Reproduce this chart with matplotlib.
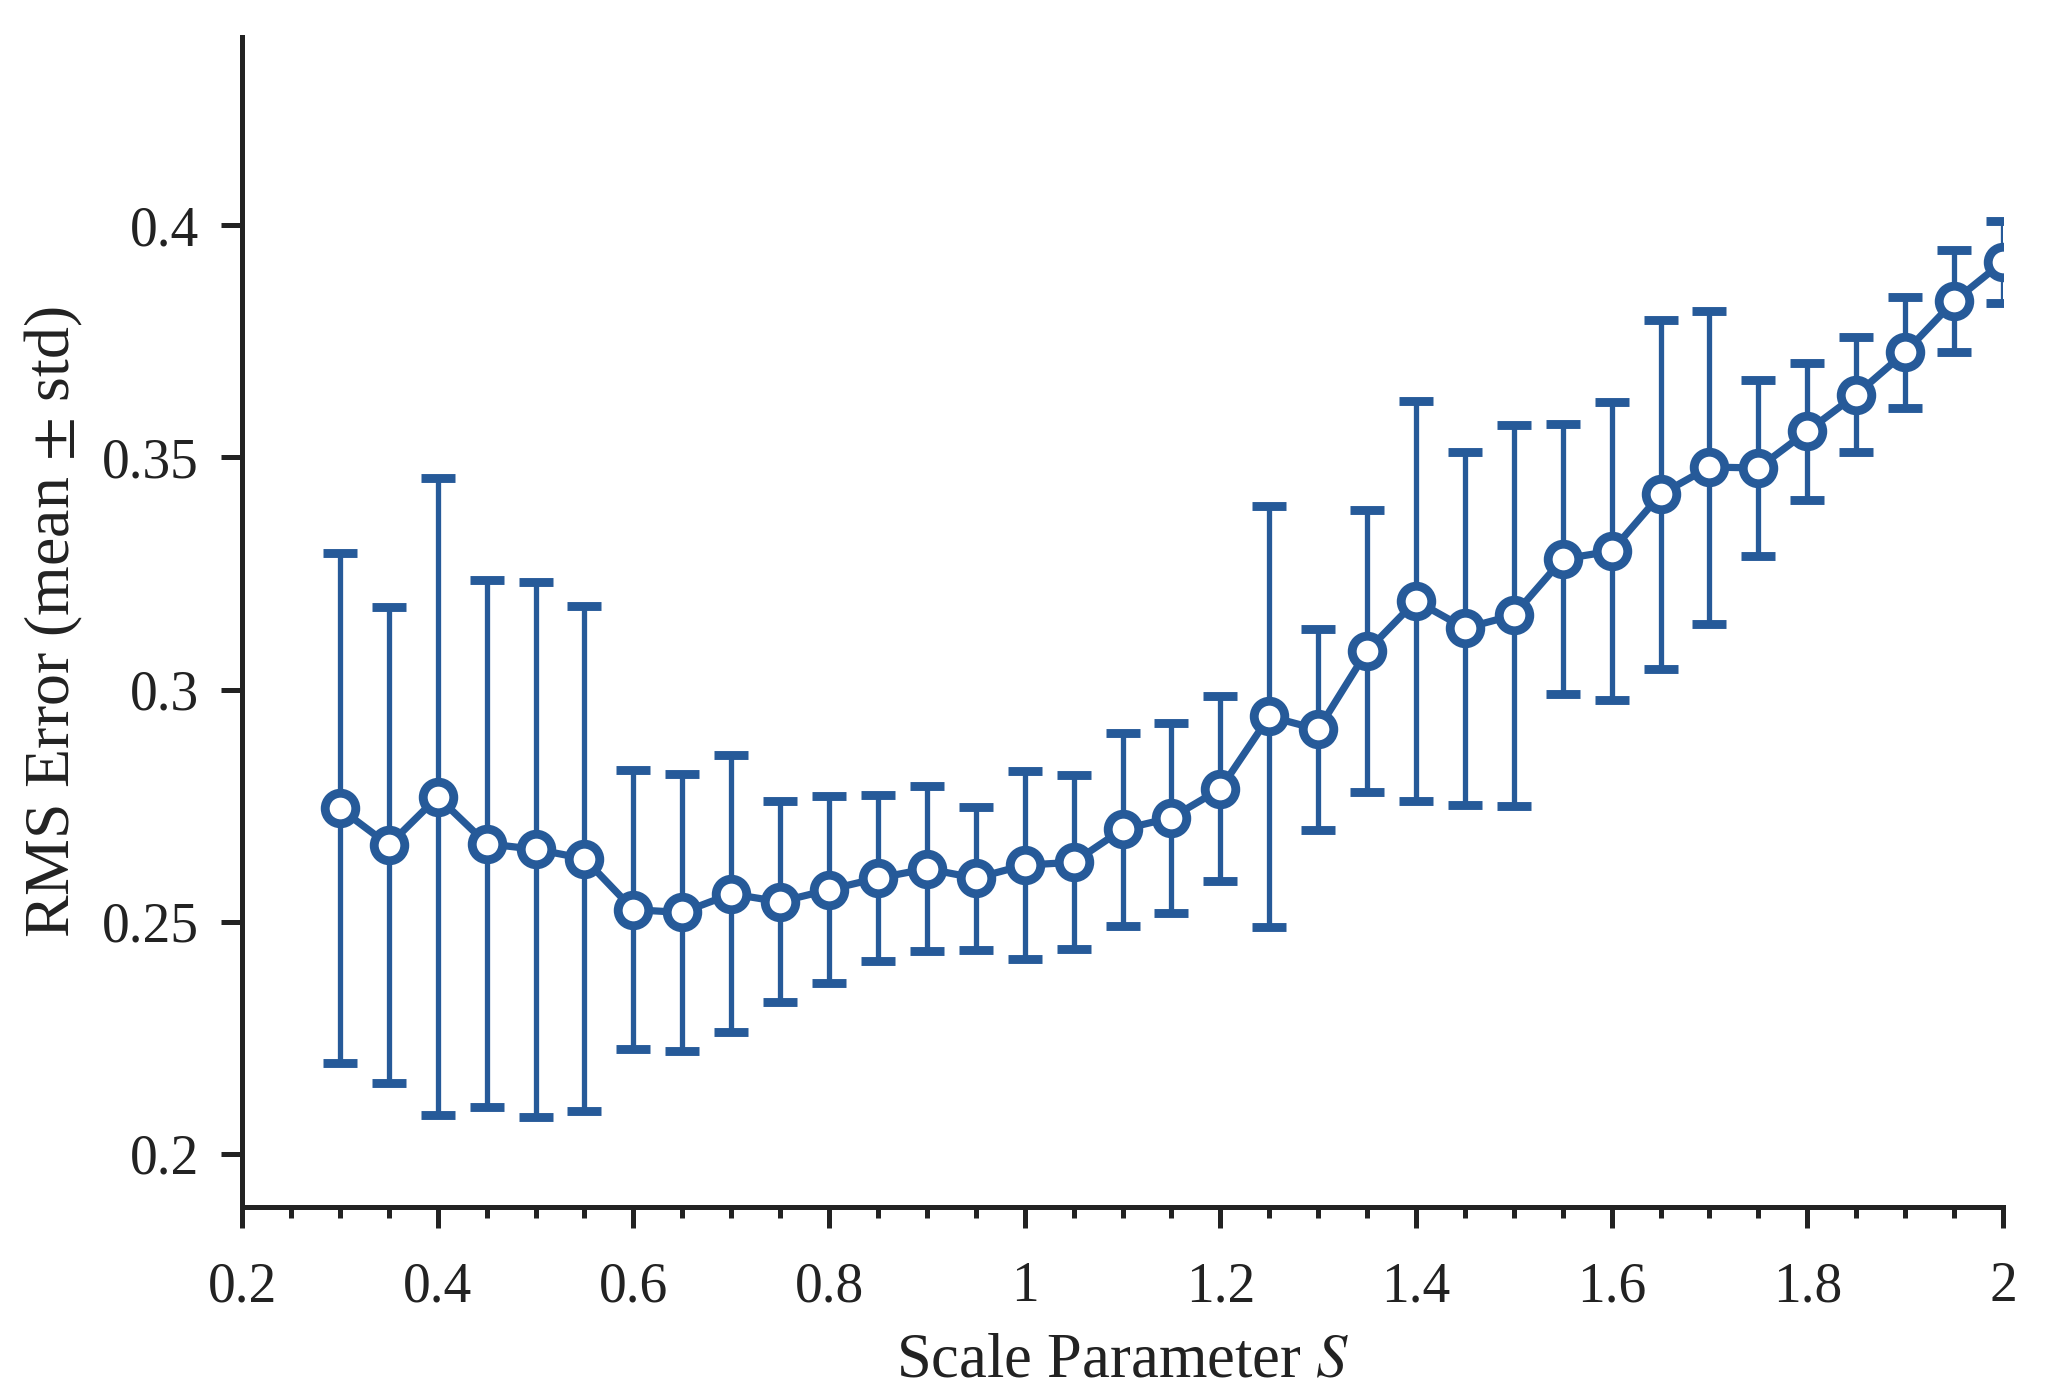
import numpy as np
import matplotlib
matplotlib.use('Agg')
import matplotlib.pyplot as plt
from matplotlib.ticker import MultipleLocator, FuncFormatter

##################
# Data
##################

scale = [0.30, 0.35, 0.40, 0.45, 0.50, 0.55, 0.60, 0.65, 0.70, 0.75,
         0.80, 0.85, 0.90, 0.95, 1.00, 1.05, 1.10, 1.15, 1.20, 1.25,
         1.30, 1.35, 1.40, 1.45, 1.50, 1.55, 1.60, 1.65, 1.70, 1.75,
         1.80, 1.85, 1.90, 1.95, 2.00]

rms_mean = [0.2744, 0.2665, 0.2769, 0.2668, 0.2656, 0.2636, 0.2526, 0.2520, 0.2560, 0.2543,
            0.2569, 0.2594, 0.2614, 0.2594, 0.2622, 0.2628, 0.2699, 0.2724, 0.2786, 0.2942,
            0.2914, 0.3083, 0.3191, 0.3132, 0.3160, 0.3281, 0.3298, 0.3420, 0.3479, 0.3477,
            0.3556, 0.3635, 0.3726, 0.3836, 0.3921]

rms_std = [0.0549, 0.0513, 0.0686, 0.0567, 0.0576, 0.0543, 0.0300, 0.0298, 0.0298, 0.0216,
           0.0201, 0.0178, 0.0178, 0.0154, 0.0202, 0.0187, 0.0208, 0.0205, 0.0199, 0.0454,
           0.0216, 0.0304, 0.0430, 0.0380, 0.0410, 0.0291, 0.0321, 0.0376, 0.0337, 0.0190,
           0.0147, 0.0123, 0.0119, 0.0110, 0.0088]

color = '#265A99'
axcolor = '#222222'

##################
# Figure
##################

plt.rcParams['font.family'] = ['Liberation Serif', 'DejaVu Serif']
plt.rcParams['mathtext.fontset'] = 'stix'
plt.rcParams['font.size'] = 20

fig = plt.figure(figsize=(10.24, 7.0), dpi=200)
ax = fig.add_axes([0.1182, 0.1379, 0.8598, 0.8357])

ax.errorbar(scale, rms_mean, yerr=rms_std, color=color, linewidth=2.6,
            elinewidth=1.9, capsize=6, capthick=1.9,
            marker='o', markersize=11, markeredgewidth=3.2,
            markerfacecolor='white', markeredgecolor=color, zorder=3)

ax.set_xlim(0.2, 2.0)
ax.set_ylim(0.1886, 0.4405)

ax.xaxis.set_major_locator(MultipleLocator(0.2))
ax.xaxis.set_minor_locator(MultipleLocator(0.05))
ax.yaxis.set_major_locator(MultipleLocator(0.05))

fmt = FuncFormatter(lambda v, pos: ('%.2f' % v).rstrip('0').rstrip('.'))
ax.xaxis.set_major_formatter(fmt)
ax.yaxis.set_major_formatter(fmt)

for side in ['top', 'right']:
    ax.spines[side].set_visible(False)
for side in ['left', 'bottom']:
    ax.spines[side].set_linewidth(1.8)
    ax.spines[side].set_color(axcolor)

ax.tick_params(which='major', direction='out', length=7.5, width=1.8,
               color=axcolor, labelsize=20, labelcolor=axcolor)
ax.tick_params(axis='x', which='major', pad=12)
ax.tick_params(axis='y', which='major', pad=8)
ax.tick_params(which='minor', direction='out', length=4, width=1.8, color=axcolor)
ax.tick_params(axis='y', which='minor', left=False)

ax.set_xlabel('Scale Parameter $S$', fontsize=22.5, color=axcolor, labelpad=7)
ax.set_ylabel('RMS Error (mean $\\pm$ std)', fontsize=23, color=axcolor, labelpad=6)

plt.savefig('out.png', dpi=200, facecolor='white')
